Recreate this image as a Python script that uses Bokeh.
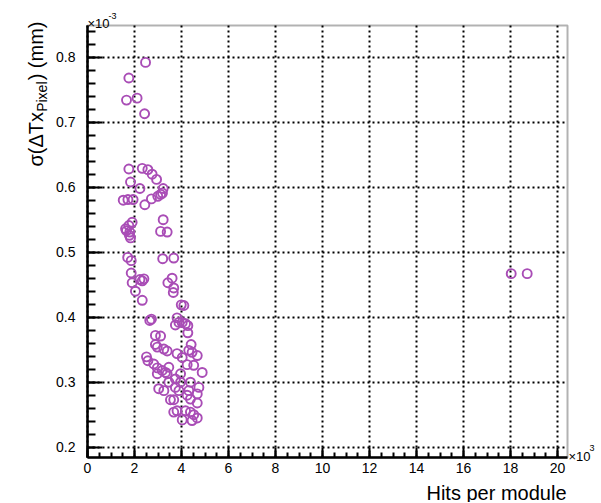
import math
from bokeh.plotting import figure
from bokeh.models import Range1d, FixedTicker, Label, BoxAnnotation, Grid
from bokeh.embed import file_html
from bokeh.resources import INLINE

# Hits per module (x 10^3)
hits_k = [2.47, 1.76, 1.66, 2.11, 2.43,
          1.76, 2.33, 2.57, 2.75, 2.94, 1.83, 2.23, 3.22,
          1.52, 1.72, 1.94, 2.44, 2.72, 2.99, 3.11, 3.19,
          3.22, 3.11, 3.39,
          1.62, 1.76, 1.90, 1.66, 1.80, 1.83, 1.78,
          1.71, 1.86, 3.20, 3.67,
          1.86, 1.90, 2.23, 2.40, 2.33, 3.60, 3.42, 3.67, 2.04, 3.65, 2.33,
          3.99, 4.10, 2.65, 2.72, 3.81, 3.74, 3.89, 4.03, 4.17, 4.27, 4.27,
          2.89, 3.11,
          2.89, 2.97, 3.25, 3.39, 4.41, 4.31, 4.45, 4.67, 3.81, 4.03, 2.51,
          2.57, 2.82, 2.97, 3.18, 3.46, 3.32, 2.97, 3.39, 3.96, 4.24, 4.52,
          4.88, 3.74, 3.96, 3.46, 4.38, 4.74, 3.03, 3.25, 3.74, 3.89, 4.31,
          4.24, 4.67, 3.53, 3.67, 4.38, 4.67, 3.67, 3.81, 4.17, 4.38, 4.03,
          4.52, 4.67, 4.45,
          18.03, 18.71]

# sigma(Delta Tx_Pixel) (x 10^-3 mm)
sigma = [0.792, 0.768, 0.734, 0.737, 0.713,
         0.628, 0.629, 0.627, 0.620, 0.612, 0.608, 0.598, 0.598,
         0.580, 0.581, 0.581, 0.573, 0.582, 0.586, 0.589, 0.591,
         0.550, 0.532, 0.531,
         0.536, 0.541, 0.546, 0.533, 0.531, 0.522, 0.526,
         0.492, 0.487, 0.490, 0.491,
         0.468, 0.453, 0.458, 0.459, 0.456, 0.460, 0.453, 0.445, 0.440, 0.438, 0.426,
         0.419, 0.418, 0.395, 0.397, 0.399, 0.388, 0.392, 0.392, 0.390, 0.387, 0.376,
         0.372, 0.371,
         0.358, 0.354, 0.351, 0.348, 0.358, 0.349, 0.346, 0.341, 0.344, 0.338, 0.339,
         0.333, 0.328, 0.322, 0.318, 0.323, 0.315, 0.313, 0.313, 0.313, 0.327, 0.326,
         0.315, 0.305, 0.300, 0.300, 0.300, 0.292, 0.290, 0.287, 0.292, 0.287, 0.287,
         0.280, 0.282, 0.273, 0.273, 0.274, 0.268, 0.254, 0.256, 0.256, 0.254, 0.242,
         0.250, 0.245, 0.241,
         0.467, 0.467]

x_ticks = [0, 2, 4, 6, 8, 10, 12, 14, 16, 18, 20]
y_ticks = [0.2, 0.3, 0.4, 0.5, 0.6, 0.7, 0.8]
x_minor = [i * 0.5 for i in range(0, 41)]
y_minor = [round(0.2 + i * 0.02, 3) for i in range(0, 33)]

# plotted box (data units)
X0, X1 = 0.0, 20.426
Y0, Y1 = 0.1842, 0.8488

FONT = "Liberation Sans"
MARK = "#a94db6"
W, H = 601, 502
PX_X, PX_Y = 23.5, 650.0      # pixels per data unit
ORG_X, ORG_Y = 87.0, 56.7     # canvas position of x=0 and y=0.8

p = figure(width=W, height=H, output_backend="svg", toolbar_location=None,
           title=None,
           x_range=Range1d(-ORG_X / PX_X, (W - ORG_X) / PX_X),
           y_range=Range1d(0.8 - (H - ORG_Y) / PX_Y, 0.8 + ORG_Y / PX_Y),
           min_border=0, min_border_left=0, min_border_right=0,
           min_border_top=0, min_border_bottom=0,
           background_fill_color="white", border_fill_color="white")
p.outline_line_color = None

# grid (dotted, black)
p.xgrid.ticker = FixedTicker(ticks=x_ticks)
p.ygrid.ticker = FixedTicker(ticks=y_ticks)
has_cb = "cross_bounds" in Grid.properties()
for g in (p.xgrid, p.ygrid):
    g.grid_line_color = "black"
    g.grid_line_dash = "2 3"
    g.grid_line_width = 2
if has_cb:
    p.xgrid.bounds = (X0, X1)
    p.xgrid.cross_bounds = (Y0, Y1)
    p.ygrid.bounds = (Y0, Y1)
    p.ygrid.cross_bounds = (X0, X1)
else:
    p.xgrid.visible = False
    p.ygrid.visible = False
    p.segment(x0=x_ticks, y0=[Y0] * len(x_ticks), x1=x_ticks, y1=[Y1] * len(x_ticks),
              line_color="black", line_dash="2 3", line_width=2)
    p.segment(x0=[X0] * len(y_ticks), y0=y_ticks, x1=[X1] * len(y_ticks), y1=y_ticks,
              line_color="black", line_dash="2 3", line_width=2)

p.scatter(hits_k, sigma, marker="circle", size=9, fill_color=None,
          line_color=MARK, line_width=1.9)

# frame box
p.add_layout(BoxAnnotation(left=X0, right=X1, bottom=Y0, top=Y1,
                           fill_color=None, fill_alpha=0,
                           line_color="black", line_width=2))

# axes drawn at the box edges
p.xaxis.fixed_location = Y0
p.xaxis.bounds = (X0, X1)
p.yaxis.fixed_location = X0
p.yaxis.bounds = (Y0, Y1)
for ax, ticks, minor in ((p.xaxis, x_ticks, x_minor), (p.yaxis, y_ticks, y_minor)):
    ax.ticker = FixedTicker(ticks=ticks, minor_ticks=minor)
    ax.major_tick_out = 0
    ax.minor_tick_out = 0
    ax.axis_line_width = 2.5
    ax.axis_line_color = "black"
    ax.major_tick_line_width = 2
    ax.minor_tick_line_width = 2
    ax.major_label_text_font = FONT
    ax.major_label_text_font_size = "14px"
    ax.major_label_text_color = "black"
p.xaxis.major_tick_in = 10
p.xaxis.minor_tick_in = 5
p.xaxis.major_label_standoff = 6
p.yaxis.major_tick_in = 15
p.yaxis.minor_tick_in = 8
p.yaxis.major_label_standoff = 12


def lab(text, X, Y, size, align="left", angle=0.0):
    # X, Y are canvas pixel positions from the top-left corner
    p.add_layout(Label(x=X, y=H - Y, x_units="screen", y_units="screen",
                       text=text, text_font=FONT, text_font_size=size,
                       text_align=align, text_baseline="alphabetic",
                       text_color="black", angle=angle))


# x-axis title and multiplier
lab("Hits per module", 566, 492, "20px", align="right")
lab("\u00d710", 568, 456, "13px")
lab("3", 589, 447, "9px")
# y-axis multiplier
lab("\u00d710", 87, 23, "13px")
lab("-3", 108, 15, "9px")
# y-axis title with subscript (reads bottom to top, right-aligned toward top)
a = math.pi / 2
lab(") (mm)", 35, 21, "20px", align="right", angle=a)
lab("Pixel", 41, 81, "14px", align="right", angle=a)
lab("\u03c3(\u0394Tx", 35, 111.5, "20px", align="right", angle=a)

open("out.html", "w").write(file_html(p, INLINE))
